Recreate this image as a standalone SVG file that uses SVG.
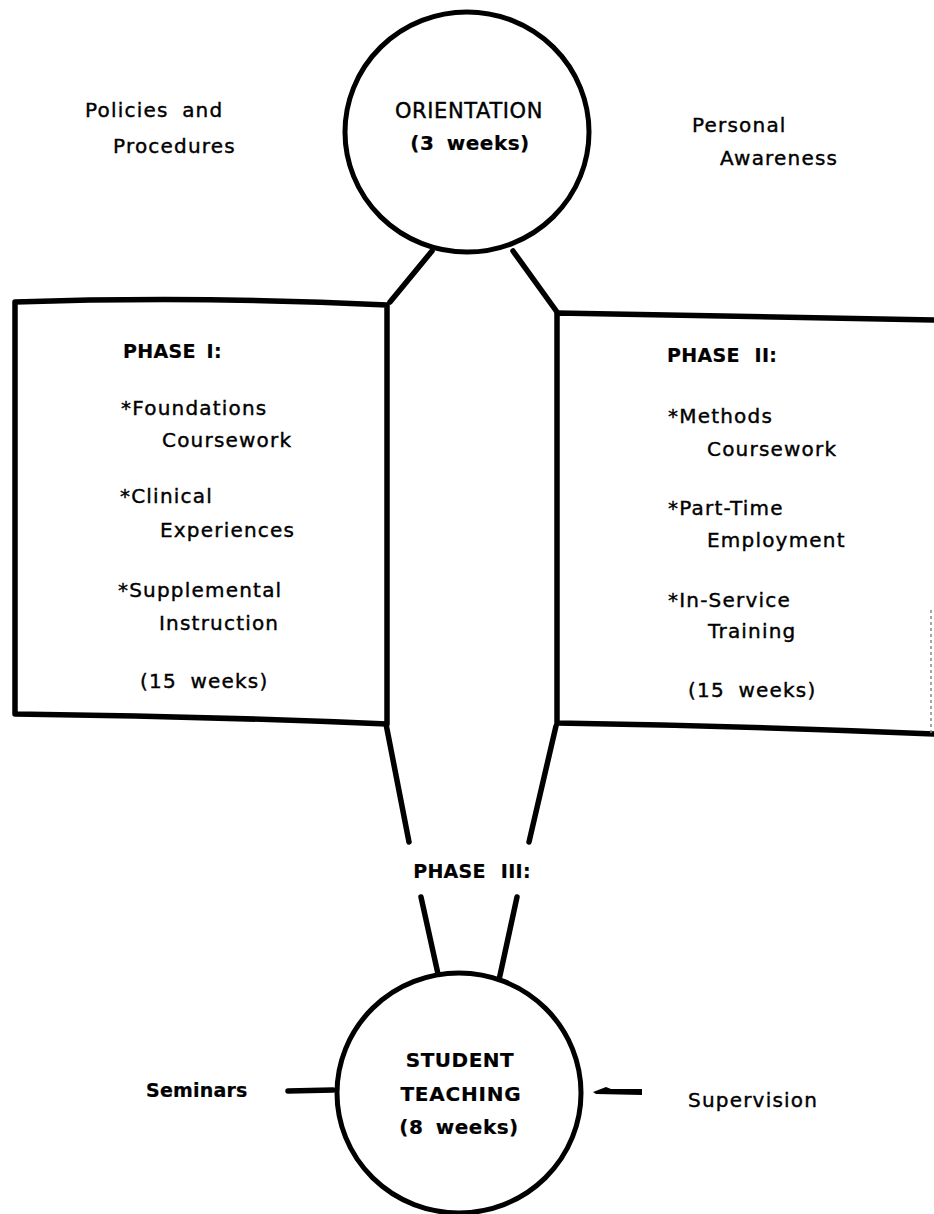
<svg xmlns="http://www.w3.org/2000/svg" width="934" height="1214" viewBox="0 0 934 1214">
<style>
  .ln { fill: none; stroke: #000; stroke-width: 5.5; stroke-linecap: round; stroke-linejoin: round; }
  .shape { fill: #fff; stroke: #000; stroke-width: 5; }
  .t { font-family: "DejaVu Sans", "Liberation Sans", sans-serif; font-size: 20px; fill: #000; stroke: #000; stroke-width: 0.4px; letter-spacing: 1.2px; }
  .b { font-weight: bold; stroke-width: 0.2px; }
  .c { text-anchor: middle; }
</style>
<rect width="934" height="1214" fill="#fff"/>

<g id="connectors">
  <path class="ln" d="M432,251 L390,302"/>
  <path class="ln" d="M513,251 L557,312"/>
  <path class="ln" d="M386,724 L409,842"/>
  <path class="ln" d="M556,726 L529,842"/>
  <path class="ln" d="M421,897 L438,974"/>
  <path class="ln" d="M517,897 L499,980"/>
  <path class="ln" d="M288,1091 L333,1090"/>
  <path d="M593,1092 L606,1087 L611,1089 L642,1089 L642,1095 L596,1094 Z" fill="#000"/>
</g>

<g id="node-orientation">
  <ellipse class="shape" cx="467" cy="132" rx="122" ry="120"/>
  <text class="t c" x="469" y="118" style="font-size:21px;letter-spacing:0.6px">ORIENTATION</text>
  <text class="t b c" x="470" y="150" style="word-spacing:5px;letter-spacing:0.5px">(3 weeks)</text>
</g>

<g id="label-policies">
  <text class="t" x="85" y="117" style="word-spacing:6px">Policies and</text>
  <text class="t" x="113" y="153">Procedures</text>
</g>

<g id="label-personal">
  <text class="t" x="692" y="132">Personal</text>
  <text class="t" x="720" y="165">Awareness</text>
</g>

<g id="node-phase1">
  <path class="ln" d="M15,302 Q200,296 387,305 L387,724 Q200,716 15,714 Z"/>
  <text class="t b" x="123" y="358" style="font-size:19px;word-spacing:4px;letter-spacing:0.3px">PHASE I:</text>
  <text class="t" x="121" y="415">*Foundations</text>
  <text class="t" x="162" y="447">Coursework</text>
  <text class="t" x="120" y="503">*Clinical</text>
  <text class="t" x="160" y="537">Experiences</text>
  <text class="t" x="118" y="597">*Supplemental</text>
  <text class="t" x="159" y="630">Instruction</text>
  <text class="t" x="140" y="688" style="word-spacing:6px">(15 weeks)</text>
</g>

<g id="node-phase2">
  <path class="ln" d="M934,320 L557,313 L557,723 Q750,726 934,734"/>
  <path d="M931,610 L931,734" fill="none" stroke="#888" stroke-width="1.5" stroke-dasharray="3 3"/>
  <text class="t b" x="667" y="362" style="font-size:19px;word-spacing:8px;letter-spacing:0.3px">PHASE II:</text>
  <text class="t" x="668" y="423">*Methods</text>
  <text class="t" x="707" y="456">Coursework</text>
  <text class="t" x="668" y="515">*Part-Time</text>
  <text class="t" x="707" y="547">Employment</text>
  <text class="t" x="668" y="607">*In-Service</text>
  <text class="t" x="708" y="638">Training</text>
  <text class="t" x="688" y="697" style="word-spacing:6px">(15 weeks)</text>
</g>

<g id="node-phase3">
  <text class="t b c" x="472" y="878" style="font-size:19px;word-spacing:8px;letter-spacing:0.3px">PHASE III:</text>
</g>

<g id="node-student-teaching">
  <ellipse class="shape" cx="459" cy="1093" rx="122" ry="120"/>
  <text class="t b c" x="460" y="1067" style="letter-spacing:0.5px">STUDENT</text>
  <text class="t b c" x="461" y="1101" style="letter-spacing:0.8px">TEACHING</text>
  <text class="t b c" x="459" y="1134" style="word-spacing:5px;letter-spacing:0.5px">(8 weeks)</text>
</g>

<g id="label-seminars">
  <text class="t b" x="146" y="1097" style="font-size:19px;letter-spacing:0.2px">Seminars</text>
</g>

<g id="label-supervision">
  <text class="t" x="688" y="1107">Supervision</text>
</g>
</svg>
